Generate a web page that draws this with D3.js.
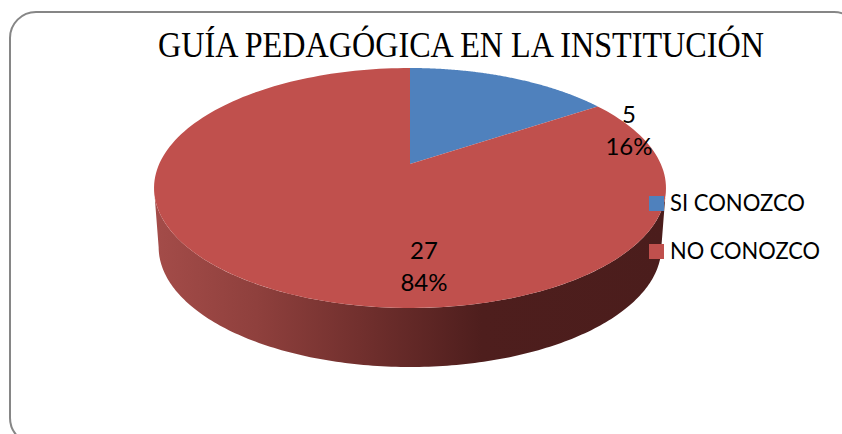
<!DOCTYPE html>
<html>
<head>
<meta charset="utf-8">
<script src="https://cdn.jsdelivr.net/npm/d3@7"></script>
<style>
html,body{margin:0;padding:0;background:#fff;overflow:hidden}
svg{display:block}
</style>
</head>
<body>
<svg id="chart" width="842" height="434"></svg>
<script>
const chartTitle = "GUÍA PEDAGÓGICA EN LA INSTITUCIÓN";
const categories = ["SI CONOZCO", "NO CONOZCO"];
const values = [5, 27];
const colors = ["#4F81BD", "#C0504D"];

const svg = d3.select("#chart");

// Frame
svg.append("rect").attr("x", 10).attr("y", 12).attr("width", 850).attr("height", 432)
  .attr("rx", 26).attr("ry", 26).attr("fill", "#fff").attr("stroke", "#868686").attr("stroke-width", 2);

// Perspective tilted disc
const cx = 410, apexY = 164, rx0 = 250.8, ry0 = 115.2, k = 0.2, depth = 59;
function project(angle, scale = 1, dy = 0) {
  const u = Math.sin(angle), v = -Math.cos(angle), w = 1 / (1 - k * v);
  return [cx + scale * rx0 * u * w, apexY + dy + ry0 * v * w];
}
const pieGen = d3.pie().sort(null).value(d => d);
const arcs = pieGen(values);
const line = d3.line();
const sample = (a0, a1, scale = 1, dy = 0) =>
  d3.range(0, 181).map(i => project(a0 + (a1 - a0) * i / 180, scale, dy));

const defs = svg.append("defs");
const grad = defs.append("linearGradient").attr("id", "side")
  .attr("gradientUnits", "userSpaceOnUse").attr("x1", 154).attr("x2", 666).attr("y1", 0).attr("y2", 0);
[[0, "#A44C49"], [0.2, "#8F403D"], [0.4, "#72302E"], [0.64, "#4E1E1D"], [1, "#4B1D1C"]]
  .forEach(s => grad.append("stop").attr("offset", s[0]).attr("stop-color", s[1]));

// Side wall, from the widest point on the right round the front to the widest point on the left
const aR = Math.PI - Math.acos(0.2), aL = Math.PI + Math.acos(0.2);
const bottomEdge = sample(aL, aR, 0.982, depth);
const topEdge = sample(aR, aL);
svg.append("path").attr("d", line(topEdge.concat(bottomEdge)) + "Z").attr("fill", "url(#side)");

// Top faces
svg.selectAll("path.slice").data(arcs).join("path").attr("class", "slice")
  .attr("d", d => line([[cx, apexY], ...sample(d.startAngle, d.endAngle)]) + "Z")
  .attr("fill", (d, i) => colors[i]);

// Data labels
const total = d3.sum(values);
const pct = d3.format(".0%");
const labelPos = [[629, 123, 155], [424, 259, 291]];
arcs.forEach((d, i) => {
  const g = svg.append("g").attr("font-family", "Lato, Carlito, sans-serif")
    .attr("font-size", 24).attr("fill", "#000").attr("text-anchor", "middle");
  g.append("text").attr("x", labelPos[i][0]).attr("y", labelPos[i][1]).text(values[i]);
  g.append("text").attr("x", labelPos[i][0]).attr("y", labelPos[i][2]).text(pct(values[i] / total));
});

// Legend
const legY = d3.scalePoint().domain(categories).range([203.5, 251.5]);
const legW = [135, 150];
const leg = svg.selectAll("g.leg").data(categories).join("g").attr("class", "leg")
  .attr("transform", d => `translate(649,${legY(d)})`);
leg.append("rect").attr("x", 0).attr("y", -7.5).attr("width", 15).attr("height", 15)
  .attr("fill", (d, i) => colors[i]);
leg.append("text").attr("x", 21).attr("y", 7.5).attr("font-family", "Lato, Carlito, sans-serif")
  .attr("font-size", 23).attr("fill", "#000")
  .attr("textLength", (d, i) => legW[i]).attr("lengthAdjust", "spacingAndGlyphs").text(d => d);

// Title
svg.append("text").attr("x", 158).attr("y", 57)
  .attr("font-family", "'Liberation Serif', serif").attr("font-size", 35).attr("fill", "#000")
  .attr("textLength", 606).attr("lengthAdjust", "spacingAndGlyphs")
  .text(chartTitle);
</script>
</body>
</html>
